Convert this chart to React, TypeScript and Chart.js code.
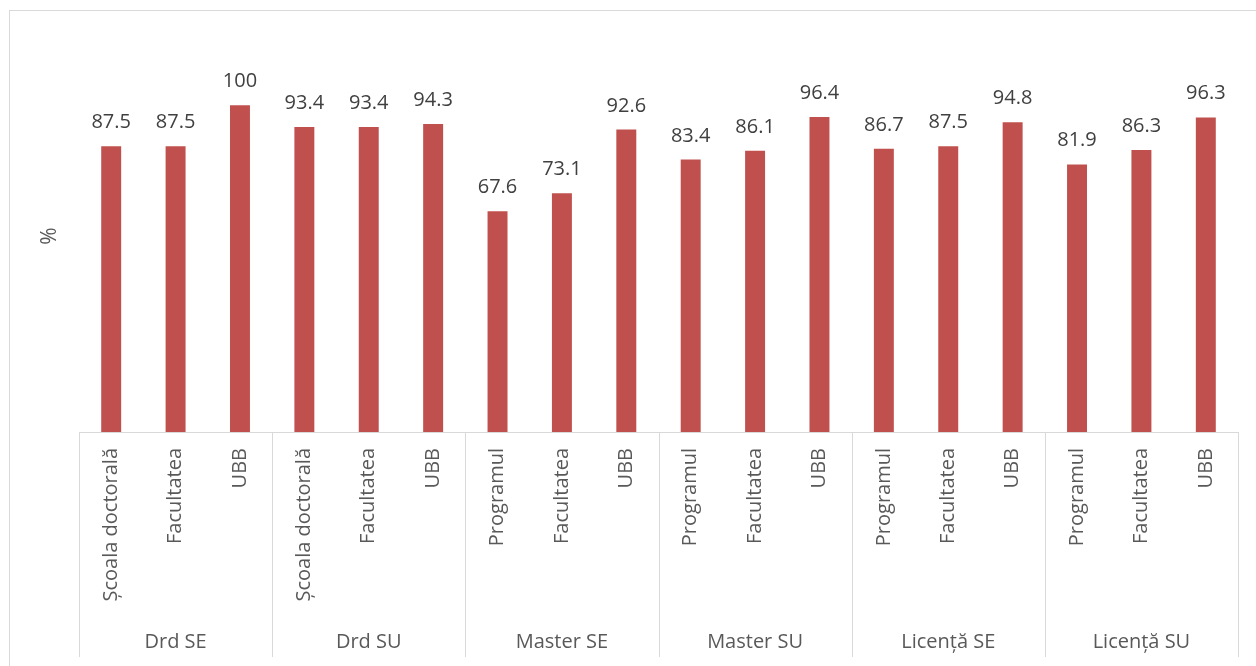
import React, { useEffect, useRef } from "react";
import { Chart, registerables } from "chart.js";

Chart.register(...registerables);

const groupNames = ["Drd SE", "Drd SU", "Master SE", "Master SU", "Licență SE", "Licență SU"];
const subLabels = [
  ["Școala doctorală", "Facultatea", "UBB"],
  ["Școala doctorală", "Facultatea", "UBB"],
  ["Programul", "Facultatea", "UBB"],
  ["Programul", "Facultatea", "UBB"],
  ["Programul", "Facultatea", "UBB"],
  ["Programul", "Facultatea", "UBB"],
];
const values = [
  87.5, 87.5, 100,
  93.4, 93.4, 94.3,
  67.6, 73.1, 92.6,
  83.4, 86.1, 96.4,
  86.7, 87.5, 94.8,
  81.9, 86.3, 96.3,
];
const yAxisTitle = "%";

const FONT = "'Open Sans', 'Noto Sans', sans-serif";
const BAR_COLOR = "#C0504D";
const LINE_COLOR = "#D9D9D9";
const LABEL_COLOR = "#595959";
const DATA_COLOR = "#404040";

export default function App() {
  const canvasRef = useRef<HTMLCanvasElement | null>(null);

  useEffect(() => {
    const canvas = canvasRef.current;
    if (!canvas) return;
    const labels: string[] = [];
    subLabels.forEach((g) => g.forEach((l) => labels.push(l)));

    const decor = {
      id: "decor",
      beforeDraw(chart: any) {
        const ctx = chart.ctx;
        ctx.save();
        ctx.fillStyle = "#ffffff";
        ctx.fillRect(0, 0, chart.width, chart.height);
        ctx.strokeStyle = LINE_COLOR;
        ctx.lineWidth = 1;
        ctx.strokeRect(9.5, 10.5, chart.width + 10, chart.height + 10);
        ctx.restore();
      },
      afterDraw(chart: any) {
        const ctx = chart.ctx;
        const xs = chart.scales.x;
        const area = chart.chartArea;
        const half = (xs.getPixelForValue(1) - xs.getPixelForValue(0)) / 2;
        ctx.save();
        ctx.strokeStyle = LINE_COLOR;
        ctx.lineWidth = 1;
        const nGroups = groupNames.length;
        let idx = 0;
        const bounds: number[] = [];
        for (let g = 0; g <= nGroups; g++) {
          let x: number;
          if (g < nGroups) x = xs.getPixelForValue(idx) - half;
          else x = xs.getPixelForValue(idx - 1) + half;
          bounds.push(x);
          const px = Math.round(x) + 0.5;
          ctx.beginPath();
          ctx.moveTo(px, area.bottom);
          ctx.lineTo(px, 657);
          ctx.stroke();
          if (g < nGroups) idx += subLabels[g].length;
        }
        ctx.fillStyle = LABEL_COLOR;
        ctx.font = `20px ${FONT}`;
        ctx.textAlign = "center";
        ctx.textBaseline = "alphabetic";
        for (let g = 0; g < nGroups; g++) {
          ctx.fillText(groupNames[g], (bounds[g] + bounds[g + 1]) / 2, 648);
        }
        ctx.fillStyle = DATA_COLOR;
        const meta = chart.getDatasetMeta(0);
        meta.data.forEach((bar: any, i: number) => {
          ctx.fillText(String(values[i]), bar.x, bar.y - 18);
        });
        ctx.restore();
      },
    };

    const chart = new Chart(canvas, {
      type: "bar",
      data: {
        labels,
        datasets: [
          {
            data: values,
            backgroundColor: BAR_COLOR,
            borderWidth: 0,
            categoryPercentage: 1,
            barPercentage: 0.31,
          },
        ],
      },
      options: {
        animation: false,
        responsive: false,
        maintainAspectRatio: false,
        layout: { padding: { left: 10, right: 18, top: 40, bottom: 9 } },
        plugins: {
          legend: { display: false },
          tooltip: { enabled: false },
        },
        scales: {
          x: {
            offset: true,
            grid: { display: false, drawTicks: false },
            border: { display: true, color: LINE_COLOR, width: 1 },
            ticks: {
              autoSkip: false,
              minRotation: 90,
              maxRotation: 90,
              padding: 16,
              color: LABEL_COLOR,
              font: { family: FONT, size: 20 },
            },
            afterFit: (scale: any) => {
              scale.height = 225;
            },
          },
          y: {
            min: 0,
            max: 120,
            grid: { display: false, drawTicks: false },
            border: { display: false },
            ticks: { display: false },
            title: {
              display: true,
              text: yAxisTitle,
              color: LABEL_COLOR,
              font: { family: FONT, size: 21 },
              padding: { top: 27, bottom: 0 },
            },
            afterFit: (scale: any) => {
              scale.width = 69;
            },
          },
        },
      },
      plugins: [decor],
    });
    return () => chart.destroy();
  }, []);

  return (
    <div style={{ position: "absolute", left: 0, top: 0, width: 1256, height: 666 }}>
      <canvas ref={canvasRef} width={1256} height={666} style={{ display: "block" }} />
    </div>
  );
}
